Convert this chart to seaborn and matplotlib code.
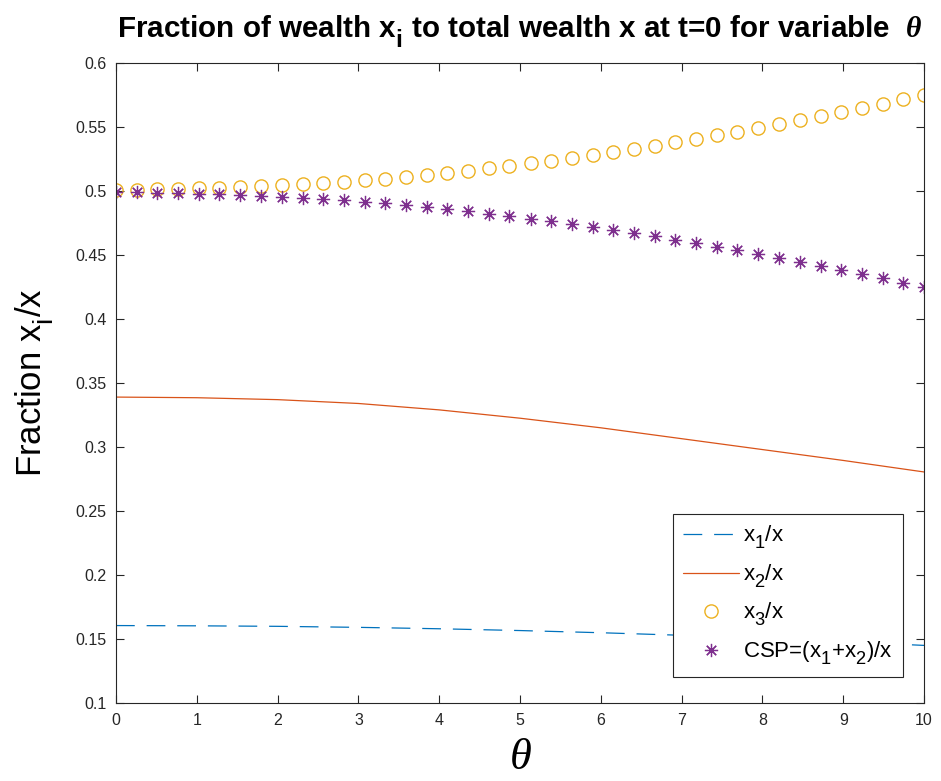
import matplotlib
matplotlib.use("Agg")
import matplotlib.pyplot as plt
import seaborn as sns
import pandas as pd

# ---- data ----
theta_pts = [0.00, 0.26, 0.51, 0.77, 1.03, 1.28, 1.54, 1.79, 2.05, 2.31,
             2.56, 2.82, 3.08, 3.33, 3.59, 3.85, 4.10, 4.36, 4.62, 4.87,
             5.13, 5.38, 5.64, 5.90, 6.15, 6.41, 6.67, 6.92, 7.18, 7.44,
             7.69, 7.95, 8.21, 8.46, 8.72, 8.97, 9.23, 9.49, 9.74, 10.00]
x3_frac = [0.5010, 0.5011, 0.5013, 0.5016, 0.5020, 0.5026, 0.5032, 0.5039, 0.5046, 0.5054,
           0.5063, 0.5073, 0.5084, 0.5097, 0.5112, 0.5127, 0.5143, 0.5159, 0.5177, 0.5196,
           0.5216, 0.5237, 0.5259, 0.5281, 0.5305, 0.5329, 0.5354, 0.5380, 0.5406, 0.5434,
           0.5463, 0.5492, 0.5521, 0.5552, 0.5584, 0.5615, 0.5648, 0.5681, 0.5715, 0.5750]
csp_frac = [0.4990, 0.4989, 0.4987, 0.4984, 0.4980, 0.4974, 0.4968, 0.4961, 0.4954, 0.4946,
            0.4937, 0.4927, 0.4916, 0.4903, 0.4888, 0.4873, 0.4857, 0.4841, 0.4823, 0.4804,
            0.4784, 0.4763, 0.4741, 0.4719, 0.4695, 0.4671, 0.4646, 0.4620, 0.4594, 0.4566,
            0.4537, 0.4508, 0.4479, 0.4448, 0.4416, 0.4385, 0.4352, 0.4319, 0.4285, 0.4250]
theta_line = [0, 1, 2, 3, 4, 5, 6, 7, 8, 9, 10]
x1_frac = [0.1605, 0.1603, 0.1599, 0.1591, 0.1580, 0.1566, 0.1549, 0.1529, 0.1506, 0.1479, 0.1450]
x2_frac = [0.3390, 0.3385, 0.3370, 0.3340, 0.3290, 0.3225, 0.3150, 0.3065, 0.2980, 0.2895, 0.2805]

x_ticks = [0, 1, 2, 3, 4, 5, 6, 7, 8, 9, 10]
y_ticks = [0.1, 0.15, 0.2, 0.25, 0.3, 0.35, 0.4, 0.45, 0.5, 0.55, 0.6]
y_tick_labels = ["0.1", "0.15", "0.2", "0.25", "0.3", "0.35", "0.4", "0.45", "0.5", "0.55", "0.6"]

c_blue, c_orange, c_yellow, c_purple = "#0072BD", "#D95319", "#EDB120", "#7E2F8E"
axis_col = "#262626"

# MATLAB-like lower, larger subscripts
try:
    import matplotlib._mathtext as _mt
    _mt.FontConstantsBase.sub1 = 0.75
    _mt.FontConstantsBase.sub2 = 0.9
    _mt.SHRINK_FACTOR = 0.82
except Exception:
    pass

sns.set_style("ticks")
plt.rcParams.update({
    "font.family": ["Liberation Sans", "DejaVu Sans"],
    "mathtext.fontset": "custom",
    "mathtext.rm": "Liberation Sans",
    "mathtext.bf": "Liberation Sans:bold",
    "mathtext.it": "Liberation Serif:italic",
    "mathtext.cal": "Liberation Serif:italic:bold",
    "text.color": "black",
})

fig = plt.figure(figsize=(9.41, 7.81), dpi=100)
ax = fig.add_axes([116 / 941, 1 - 703 / 781, 808 / 941, 640 / 781])

df_line = pd.DataFrame({"theta": theta_line, "x1": x1_frac, "x2": x2_frac})
df_pts = pd.DataFrame({"theta": theta_pts, "x3": x3_frac, "csp": csp_frac})

sns.lineplot(data=df_line, x="theta", y="x1", ax=ax, color=c_blue, linewidth=0.9,
             label="x$_1$/x")
ax.lines[-1].set_dashes((15, 9.5))
sns.lineplot(data=df_line, x="theta", y="x2", ax=ax, color=c_orange, linewidth=0.9,
             label="x$_2$/x")
sns.lineplot(data=df_pts, x="theta", y="x3", ax=ax, linestyle="", marker="o",
             markersize=9.5, markerfacecolor="none", markeredgecolor=c_yellow,
             markeredgewidth=1.0, color=c_yellow, label="x$_3$/x")
sns.lineplot(data=df_pts, x="theta", y="csp", ax=ax, linestyle="", marker=(8, 2, 0),
             markersize=9.5, markeredgecolor=c_purple, markeredgewidth=0.9,
             color=c_purple, label="CSP=(x$_1$+x$_2$)/x")

ax.set_xlim(0, 10)
ax.set_ylim(0.1, 0.6)
ax.set_xticks(x_ticks)
ax.set_xticklabels([str(t) for t in x_ticks])
ax.set_yticks(y_ticks)
ax.set_yticklabels(y_tick_labels)
ax.tick_params(direction="in", length=5.8, width=0.8, top=True, right=True,
               colors=axis_col, labelsize=11.5, pad=7)
for s in ax.spines.values():
    s.set_visible(True)
    s.set_color(axis_col)
    s.set_linewidth(0.8)

ax.set_xlabel(r"$\theta$", fontsize=32, labelpad=7, color="black")
ax.set_ylabel(r"Fraction x$_\mathrm{i}$/x", fontsize=25, labelpad=14, color="black")
ax.set_title(r"Fraction of wealth x$_\mathbf{i}$ to total wealth x at t=0 for variable  $\mathcal{\theta}$",
             fontsize=21.3, fontweight="bold", pad=18, color="black")

leg = ax.legend(loc="lower right", bbox_to_anchor=(0.974, 0.0406), borderaxespad=0,
                frameon=True, fancybox=False, edgecolor=axis_col, framealpha=1,
                fontsize=16, handlelength=2.5, borderpad=0.45, labelspacing=0.5,
                handletextpad=0.2)
leg.get_frame().set_linewidth(0.8)

fig.savefig("out.png", dpi=100)
